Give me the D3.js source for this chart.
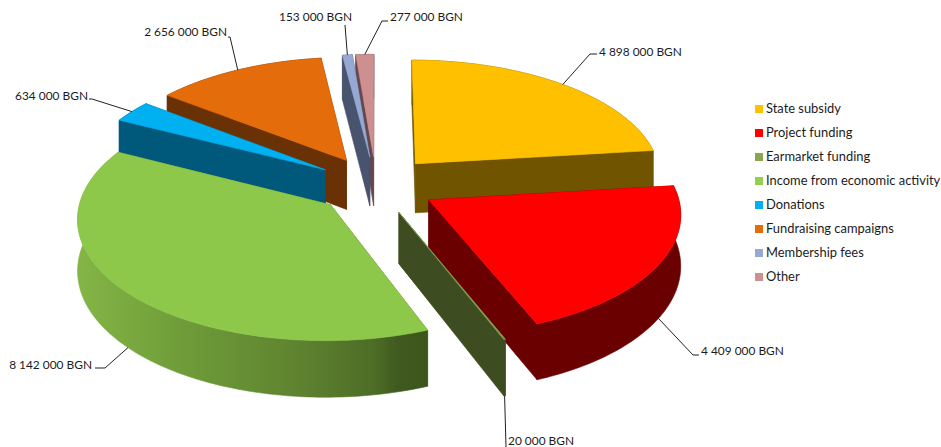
<!DOCTYPE html>
<html>
<head>
<meta charset="utf-8">
<script src="https://cdn.jsdelivr.net/npm/d3@7"></script>
<style>
html, body { margin: 0; padding: 0; background: #fff; }
svg { display: block; }
text { font-family: Lato, "Open Sans", sans-serif; fill: #1c1c1c; }
</style>
</head>
<body>
<div id="chart"></div>
<script>
'use-strict';

var categories = ["State subsidy", "Project funding", "Earmarket funding", "Income from economic activity", "Donations", "Fundraising campaigns", "Membership fees", "Other"];
var values = [4898000, 4409000, 20000, 8142000, 634000, 2656000, 153000, 277000];

var top_colors = ["#ffc000", "#ff0000", "#8aa64f", "#8dc84a", "#00b0f0", "#e46c0a", "#95a9d3", "#cd8f8f"];
var side_colors = ["#705400", "#6a0000", "#3e4d21", "#4f7327", "#00587a", "#6a3104", "#48536e", "#66464a"];
var legend_colors = ["#ffc000", "#ff0000", "#8aa64f", "#92d050", "#00b0f0", "#e46c0a", "#95a9d3", "#cd8f8f"];

// where each label sits, and the elbow of its leader line (pixels)
var label_x = [599, 701, 508, 92, 88, 227, 352, 390];
var label_y = [52, 351, 441, 365, 96, 32, 17, 17];
var label_anchor = ["start", "start", "start", "end", "end", "end", "end", "start"];
var elbow_x = [590, 693, 506, 105, 92, 230, 345, 382];
var elbow_y = [54, 355, 447, 368, 99, 37, 25, 21];
var end_x = [597, 699, 506, 95, 89, 228, 345, 388];

var width = 941;
var height = 447;

// camera for the tilted pie
var center_x = 376;
var center_y = 185;
var radius_x = 247;
var radius_y = 118;
var thickness = 50;
var perspective = 0.1;
var explode = 0.245;

var svg = d3.select("#chart").append("svg")
	.attr("width", width)
	.attr("height", height);

function project(x, y, z) {
	var w = 1 + perspective * y;
	return [center_x + radius_x * x / w, center_y - (radius_y * y + thickness * z) / w];
}

var pie = d3.pie().sort(null).value(function(d) { return d; });
var slices = pie(values).map(function(d, i) {
	d.index = i;
	d.mid = (d.startAngle + d.endAngle) / 2;
	d.off_x = explode * Math.sin(d.mid);
	d.off_y = explode * Math.cos(d.mid);
	return d;
});

function rim_point(d, angle, z) {
	return project(d.off_x + Math.sin(angle), d.off_y + Math.cos(angle), z);
}

function rim_points(d, z) {
	var n = Math.max(2, Math.ceil((d.endAngle - d.startAngle) / 0.02));
	return d3.range(n + 1).map(function(j) {
		return rim_point(d, d.startAngle + (d.endAngle - d.startAngle) * j / n, z);
	});
}

var line = d3.line();

function closed(pts) {
	return line(pts) + "Z";
}

function edge_face(d, angle) {
	return [
		project(d.off_x, d.off_y, 0),
		rim_point(d, angle, 0),
		rim_point(d, angle, -1),
		project(d.off_x, d.off_y, -1)
	];
}

function fill_shape(g, pts, color) {
	g.append("path")
		.attr("d", closed(pts))
		.attr("fill", color)
		.attr("stroke", color)
		.attr("stroke-width", 0.6)
		.attr("stroke-linejoin", "round");
}

// the big green slice has a shaded rim
var green_rim = rim_points(slices[3], 0).concat(rim_points(slices[3], -1));
var green_ext = d3.extent(green_rim, function(p) { return p[0]; });
var grad = svg.append("defs").append("linearGradient")
	.attr("id", "green_side")
	.attr("gradientUnits", "userSpaceOnUse")
	.attr("x1", green_ext[0]).attr("x2", green_ext[1])
	.attr("y1", 0).attr("y2", 0);
[[0, "#84b546"], [0.3, "#6f9c39"], [0.62, "#5f8430"], [0.85, "#4d6c26"], [0.92, "#3f591e"], [1, "#3c561c"]].forEach(function(s) {
	grad.append("stop").attr("offset", s[0]).attr("stop-color", s[1]);
});

// painter's order, rear slices first
var order = slices.slice().sort(function(a, b) {
	return d3.descending(a.off_y + Math.cos(a.mid), b.off_y + Math.cos(b.mid));
});

var pie_g = svg.append("g");
order.forEach(function(d) {
	var g = pie_g.append("g");
	var side = side_colors[d.index];
	var faces = [d.startAngle, d.endAngle].sort(function(a, b) {
		return d3.descending(Math.cos(a), Math.cos(b));
	});
	faces.forEach(function(a) {
		fill_shape(g, edge_face(d, a), side);
	});
	var ribbon = rim_points(d, 0).concat(rim_points(d, -1).reverse());
	fill_shape(g, ribbon, d.index == 3 ? "url(#green_side)" : side);
	var top = [project(d.off_x, d.off_y, 0)].concat(rim_points(d, 0));
	fill_shape(g, top, top_colors[d.index]);
});

// leader lines and value labels
var format = d3.formatLocale({ decimal: ".", thousands: " ", grouping: [3], currency: ["", ""] }).format(",d");

slices.forEach(function(d, i) {
	// front slices hang their leader from the bottom of the rim
	var z = Math.cos(d.mid) < 0 ? -1 : 0;
	var start = rim_point(d, d.mid, z);
	svg.append("path")
		.attr("d", line([start, [elbow_x[i], elbow_y[i]], [end_x[i], elbow_y[i]]]))
		.attr("fill", "none")
		.attr("stroke", "#222")
		.attr("stroke-width", 1);
	svg.append("text")
		.attr("x", label_x[i])
		.attr("y", label_y[i] + 4)
		.attr("text-anchor", label_anchor[i])
		.attr("font-size", 11.9)
		.text(format(values[i]) + " BGN");
});

// legend
var legend_y = d3.scaleLinear().domain([0, categories.length - 1]).range([109, 277]);
var legend = svg.append("g").selectAll("g").data(categories).enter().append("g")
	.attr("transform", function(d, i) { return "translate(755," + legend_y(i) + ")"; });
legend.append("rect")
	.attr("x", 0).attr("y", -4)
	.attr("width", 8).attr("height", 8)
	.attr("fill", function(d, i) { return legend_colors[i]; });
legend.append("text")
	.attr("x", 11).attr("y", 4)
	.attr("font-size", 12.9)
	.text(function(d) { return d; });
</script>
</body>
</html>
